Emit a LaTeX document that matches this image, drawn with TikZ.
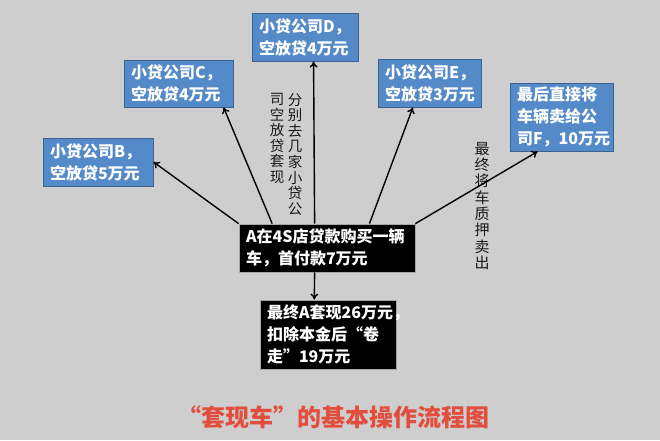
\documentclass[tikz,border=0pt]{standalone}
\usepackage{fontspec}
\setmainfont{Noto Sans CJK SC}
\definecolor{boxblue}{RGB}{84,138,200}
\definecolor{boxborder}{RGB}{58,98,148}
\definecolor{bggray}{RGB}{206,206,206}
\definecolor{titlered}{RGB}{226,78,62}
\usetikzlibrary{positioning, calc, arrows.meta}

\begin{document}
\begin{tikzpicture}[x=1pt, y=-1pt,
        loan/.style={rectangle, draw=boxborder, fill=boxblue, line width=1pt, text=white, font=\bfseries\fontsize{16}{22}\selectfont, align=left, inner xsep=7pt, inner ysep=2pt},
        dark/.style={rectangle, draw=gray!70, fill=black, line width=0.8pt, text=white, font=\bfseries\fontsize{16}{22}\selectfont, align=left, inner xsep=7pt, inner ysep=2pt},
        vlabel/.style={font=\fontsize{14.5}{15.6}\selectfont, text=black!90, align=center, anchor=north, inner sep=0pt},
        arrow/.style={-{To[length=6pt, width=8pt]}, line width=1.4pt}
    ]
        \fill[bggray] (0,0) rectangle (660,440);
        % loan companies
        \node[loan, text width=96pt, minimum height=48pt] (B) at (98,162) {小贷公司B，\\空放贷5万元};
        \node[loan, text width=95pt, minimum height=47pt] (C) at (178.5,83.5) {小贷公司C，\\空放贷4万元};
        \node[loan, text width=92pt, minimum height=48pt] (D) at (305,37) {小贷公司D，\\空放贷4万元};
        \node[loan, text width=89pt, minimum height=48pt] (E) at (429.5,83) {小贷公司E，\\空放贷3万元};
        \node[loan, text width=89pt, minimum height=68pt] (F) at (561.5,117) {最后直接将\\车辆卖给公\\司F，10万元};
        % buyer and result
        \node[dark, text width=162pt, minimum height=48pt] (A) at (327,248) {A在4S店贷款购买一辆\\车，首付款7万元};
        \node[dark, text width=122pt, minimum height=69pt] (END) at (328,334.5) {最终A套现26万元，\\扣除本金后“卷\\走”19万元};
        % vertical notes
        \node[vlabel] (NOTE1) at (295,93) {分\\别\\去\\几\\家\\小\\贷\\公};
        \node[vlabel] (NOTE2) at (277,93) {司\\空\\放\\贷\\套\\现};
        \node[vlabel, font=\fontsize{15}{16.3}\selectfont] (NOTE3) at (482,142) {最\\终\\将\\车\\质\\押\\卖\\出};
        \node[font=\bfseries\fontsize{24}{28}\selectfont, text=titlered] (TITLE) at (333,417) {“套现车”的基本操作流程图};
        % arrows
        \draw[arrow] (A.north west) -- (B.east);
        \draw[arrow] ($(A.north west)!0.19!(A.north east)$) -- ($(C.south west)!0.91!(C.south east)$);
        \draw[arrow] ($(A.north west)!0.43!(A.north east)$) -- ($(D.south west)!0.58!(D.south east)$);
        \draw[arrow] ($(A.north west)!0.74!(A.north east)$) -- ($(E.south west)!0.34!(E.south east)$);
        \draw[arrow] (A.north east) -- ($(F.south west)!0.27!(F.south east)$);
        \draw[arrow] ($(A.south west)!0.43!(A.south east)$) -- ($(END.north west)!0.4!(END.north east)$);
    \end{tikzpicture}
\end{document}
